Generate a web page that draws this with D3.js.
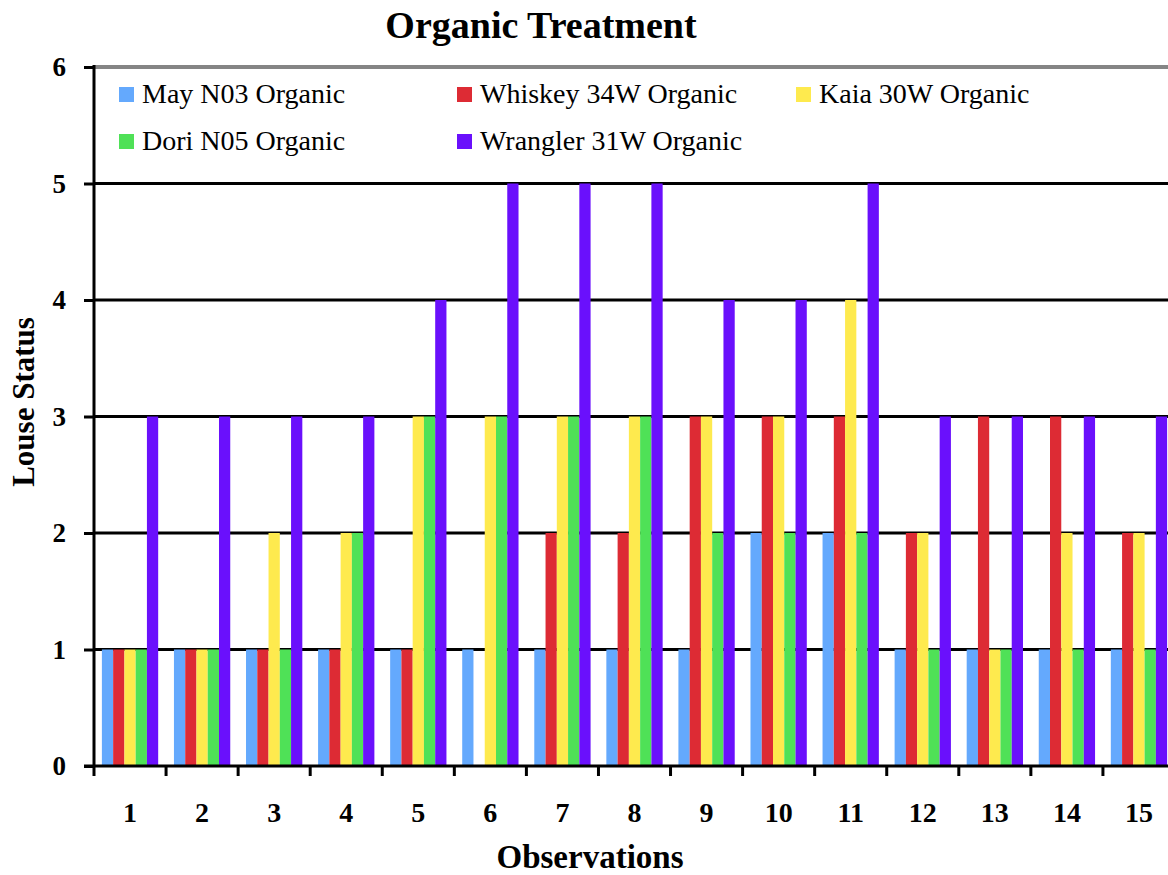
<!DOCTYPE html>
<html>
<head>
<meta charset="utf-8">
<script src="https://cdn.jsdelivr.net/npm/d3@7"></script>
<style>
	body { margin: 0; background: #fff; }
	svg { display: block; }
</style>
</head>
<body>
<div id="chart"></div>
<script>
var observations = ["1", "2", "3", "4", "5", "6", "7", "8", "9", "10", "11", "12", "13", "14", "15"];
var seriesNames = ["May N03 Organic", "Whiskey 34W Organic", "Kaia 30W Organic", "Dori N05 Organic", "Wrangler 31W Organic"];
var seriesColors = ["#64a9fd", "#dd2b34", "#feea4e", "#4fe157", "#6a10fc"];

var mayN03    = [1, 1, 1, 1, 1, 1, 1, 1, 1, 2, 2, 1, 1, 1, 1];
var whiskey34 = [1, 1, 1, 1, 1, 0, 2, 2, 3, 3, 3, 2, 3, 3, 2];
var kaia30    = [1, 1, 2, 2, 3, 3, 3, 3, 3, 3, 4, 2, 1, 2, 2];
var doriN05   = [1, 1, 1, 2, 3, 3, 3, 3, 2, 2, 2, 1, 1, 1, 1];
var wrangler  = [3, 3, 3, 3, 4, 5, 5, 5, 4, 4, 5, 3, 3, 3, 3];
var yTicks = [0, 1, 2, 3, 4, 5, 6];

var allSeries = [mayN03, whiskey34, kaia30, doriN05, wrangler];

var width = 1168, height = 875;
var plotLeft = 94, plotRight = 1175, plotTop = 67, plotBottom = 766;

var svg = d3.select("#chart").append("svg")
	.attr("width", width)
	.attr("height", height);

var x = d3.scaleBand().domain(observations).range([plotLeft, plotRight]);
var xs = d3.scaleBand().domain(d3.range(seriesNames.length))
	.range([0, x.bandwidth()])
	.paddingOuter(0.7);
var y = d3.scaleLinear().domain([0, 6]).range([plotBottom, plotTop]);

// title
svg.append("text")
	.attr("x", 541).attr("y", 38)
	.attr("text-anchor", "middle")
	.style("font-family", "'Liberation Serif', serif")
	.style("font-weight", "bold")
	.style("font-size", "38px")
	.text("Organic Treatment");

// gridlines
svg.append("g").selectAll("line")
	.data(yTicks.filter(function(d){ return d > 0; }))
	.enter().append("line")
	.attr("x1", plotLeft).attr("x2", width)
	.attr("y1", function(d){ return y(d); })
	.attr("y2", function(d){ return y(d); })
	.attr("stroke", function(d){ return d == 6 ? "#858585" : "#000"; })
	.attr("stroke-width", function(d){ return d == 6 ? 4 : 3; });

// bars
var rows = observations.map(function(o, i){
	return allSeries.map(function(s, j){ return { obs: o, k: j, v: s[i] }; });
});

svg.append("g").selectAll("g")
	.data(rows)
	.enter().append("g")
	.attr("transform", function(d){ return "translate(" + x(d[0].obs) + ",0)"; })
	.selectAll("rect")
	.data(function(d){ return d; })
	.enter().append("rect")
	.attr("x", function(d){ return xs(d.k); })
	.attr("width", xs.bandwidth())
	.attr("y", function(d){ return y(d.v); })
	.attr("height", function(d){ return y(0) - y(d.v); })
	.attr("fill", function(d){ return seriesColors[d.k]; });

// y axis
var yAxis = svg.append("g")
	.attr("transform", "translate(" + plotLeft + ",0)")
	.call(d3.axisLeft(y).tickValues(yTicks).tickSize(10).tickPadding(18).tickFormat(d3.format("d")));
yAxis.select(".domain").attr("stroke", "#000").attr("stroke-width", 3).attr("d", "M0," + (plotTop - 2) + "V" + (plotBottom + 1));
yAxis.selectAll(".tick line").attr("stroke", "#000").attr("stroke-width", 3);
yAxis.selectAll(".tick text")
	.style("font-family", "'Liberation Serif', serif")
	.style("font-weight", "bold")
	.style("font-size", "27px")
	.attr("fill", "#000");

// x axis
var xAxis = svg.append("g")
	.attr("transform", "translate(0," + plotBottom + ")");
xAxis.append("line")
	.attr("x1", plotLeft - 10).attr("x2", width)
	.attr("y1", 0).attr("y2", 0)
	.attr("stroke", "#000").attr("stroke-width", 3);
xAxis.selectAll("line.tk")
	.data(observations)
	.enter().append("line")
	.attr("class", "tk")
	.attr("x1", function(d){ return x(d); })
	.attr("x2", function(d){ return x(d); })
	.attr("y1", 0).attr("y2", 10)
	.attr("stroke", "#000").attr("stroke-width", 3);
xAxis.selectAll("text")
	.data(observations)
	.enter().append("text")
	.attr("x", function(d){ return x(d) + x.bandwidth() / 2; })
	.attr("y", 56)
	.attr("text-anchor", "middle")
	.style("font-family", "'Liberation Serif', serif")
	.style("font-weight", "bold")
	.style("font-size", "28px")
	.text(function(d){ return d; });

// axis titles
svg.append("text")
	.attr("transform", "translate(34,402) rotate(-90)")
	.attr("text-anchor", "middle")
	.style("font-family", "'Liberation Serif', serif")
	.style("font-weight", "bold")
	.style("font-size", "31px")
	.text("Louse Status");

svg.append("text")
	.attr("x", 590).attr("y", 868)
	.attr("text-anchor", "middle")
	.style("font-family", "'Liberation Serif', serif")
	.style("font-weight", "bold")
	.style("font-size", "33px")
	.text("Observations");

// legend
var legendPos = [[119, 87], [457, 87], [796, 87], [119, 134], [457, 134]];
var legendOrder = [0, 1, 2, 3, 4];
var legend = svg.append("g").selectAll("g")
	.data(legendOrder)
	.enter().append("g")
	.attr("transform", function(d, i){ return "translate(" + legendPos[i][0] + "," + legendPos[i][1] + ")"; });
legend.append("rect")
	.attr("width", 15).attr("height", 15)
	.attr("fill", function(d){ return seriesColors[d]; });
legend.append("text")
	.attr("x", 23).attr("y", 16)
	.style("font-family", "'Liberation Serif', serif")
	.style("font-size", "28px")
	.text(function(d){ return seriesNames[d]; });
</script>
</body>
</html>
